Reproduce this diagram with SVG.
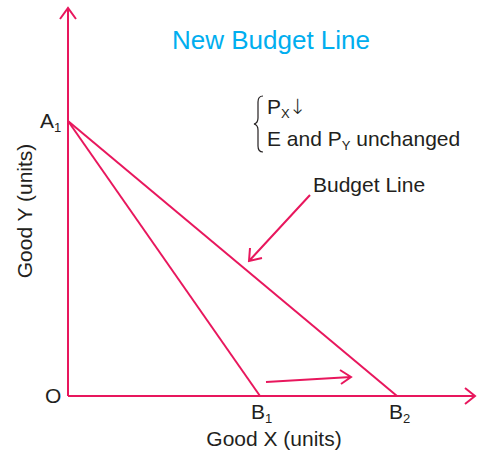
<svg xmlns="http://www.w3.org/2000/svg" width="477" height="454" viewBox="0 0 477 454">
<style>
.ln{stroke:#e8175d;stroke-width:2;fill:none}
.t{font-family:"Liberation Sans",Arial,sans-serif;font-size:21px;fill:#231f20}
.s{font-size:13px}
.ar{font-family:"DejaVu Sans",sans-serif;font-size:21px;font-weight:200;fill:#231f20}
</style>
<rect width="477" height="454" fill="#fff"/>
<g id="axes">
<path class="ln" d="M68,396 V8 M60,19 L68,8 L76,19"/>
<path class="ln" d="M68,396 H475 M465,388 L475,396 L465,404"/>
</g>
<g id="connectors">
<path class="ln" d="M68,121 L260,396"/>
<path class="ln" d="M68,121 L397,396"/>
<path class="ln" d="M310,195 L249,261 M250,248 L249,261 L262,258"/>
<path class="ln" d="M266,382 L351,377 M340,370 L351,377 L341,384"/>
</g>
<g id="title"><text x="172" y="49" style="font-family:'Liberation Sans',Arial,sans-serif;font-size:26px;fill:#00aeef">New Budget Line</text></g>
<g id="A1"><text class="t" x="40" y="128">A<tspan class="s" dy="4">1</tspan></text></g>
<g id="O"><text class="t" x="45" y="403">O</text></g>
<g id="B1"><text class="t" x="251" y="419">B<tspan class="s" dy="4">1</tspan></text></g>
<g id="B2"><text class="t" x="389" y="419">B<tspan class="s" dy="4">2</tspan></text></g>
<g id="xlabel"><text class="t" x="274" y="446" text-anchor="middle">Good X (units)</text></g>
<g id="ylabel"><text class="t" text-anchor="middle" transform="translate(32,211) rotate(-90)">Good Y (units)</text></g>
<g id="note">
<path d="M263,96 Q258,96 258,102 V118 Q258,123 254,124 Q258,125 258,130 V146 Q258,152 263,152" fill="none" stroke="#231f20" stroke-width="1.2"/>
<text class="t" x="267" y="114">P<tspan class="s" dy="4">X</tspan></text>
<text class="ar" x="289" y="114">↓</text>
<text class="t" x="267" y="146">E and P<tspan class="s" dy="4">Y</tspan><tspan dy="-4"> unchanged</tspan></text>
</g>
<g id="budgetlabel"><text class="t" x="313" y="192">Budget Line</text></g>
</svg>
